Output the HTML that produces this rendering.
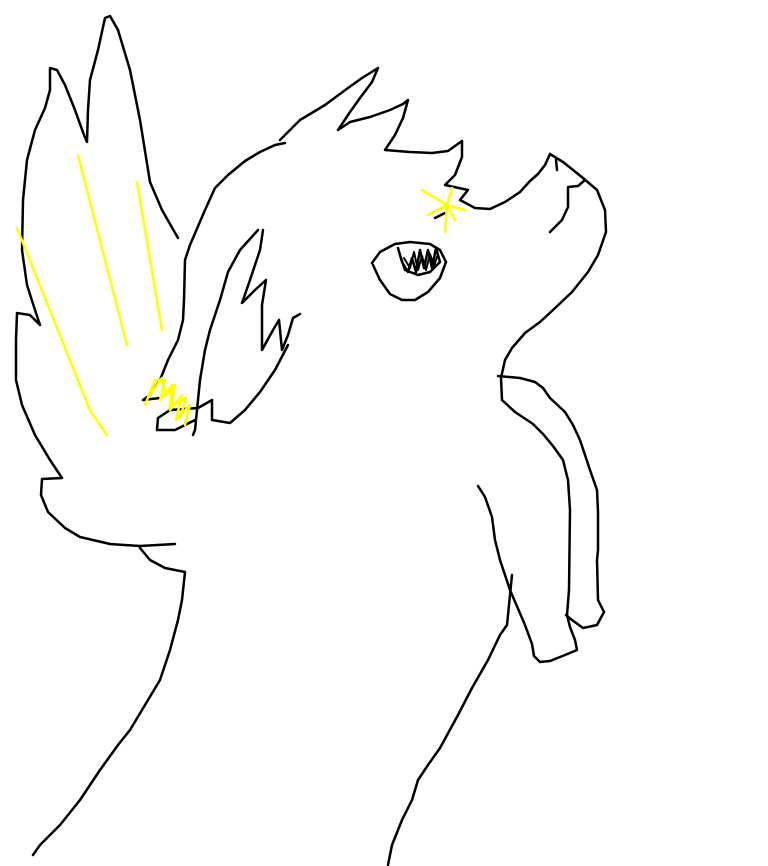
<!DOCTYPE html>
<html><head><meta charset="utf-8"><style>html,body{margin:0;padding:0;background:#fff}svg{display:block}</style></head><body>
<svg width="768" height="866" viewBox="0 0 768 866" xmlns="http://www.w3.org/2000/svg">
<g fill="none" stroke="#000" stroke-width="2.5" stroke-linecap="round" stroke-linejoin="round">
<polyline points="178,238 162,210 150,182 140,120 130,70 118,30 110,16 105,18 98,50 90,80 88,110 87,142 84,135 75,110 65,85 57,70 50,68 50,90 45,108 35,130 27,160 23,200 22,250 27,285 35,310 40,325 30,315 17,313 16,340 16,380 22,405 35,435 50,460 62,478 42,479 41,495 48,512 65,528 80,537 110,544 140,546 175,544"/>
<polyline points="140,548 150,560 165,568 185,572 182,600 178,620 170,650 160,680 145,705 130,730 118,745 100,770 80,800 60,825 40,845 33,855"/>
<polyline points="388,865 392,845 402,820 412,800 418,780 428,765 440,748 458,715 472,688 488,660 500,635 507,625 512,575"/>
<polyline points="478,486 485,497 492,517 495,540 500,560 510,590 525,625 532,644 534,656 540,662 550,661 565,655 577,650 575,640 570,627 567,615 569,590 570,510 568,480 563,460 553,446 543,434 533,424 515,412 502,400 501,378 505,360 512,348 525,333 540,322 553,310 572,292 588,272 598,255 606,232 605,210 597,190 583,178 563,162 550,154 545,165 538,174 530,181 520,192 505,202 490,209 475,208 460,200 468,190 445,185 455,175 462,157 462,142"/>
<polyline points="585,180 578,186 568,187 568,207 562,220 550,232"/>
<polyline points="498,376 520,378 535,382 543,388 550,398 565,412 573,425 580,440 590,470 597,490 598,512 598,550 597,560 598,600 604,612 597,625 583,628 572,620 566,615"/>
<polyline points="556,160 557,170 M550,158 550,170"/>
<polyline points="280,140 300,120 325,105 348,88 362,78 378,68 372,82 360,98 350,112 338,130 350,122 370,117 390,110 403,104 408,100 403,118 395,135 385,150 410,152 432,153 448,151 462,141"/>
<polyline points="285,143 275,145 260,152 245,161 228,175 215,188 205,210 190,245 185,260 184,300 183,320 178,340 168,360 160,380 150,395 143,400 160,398"/>
<polyline points="263,230 260,250 250,280 242,303 255,290 266,280 262,305 262,328 262,350 273,330 279,320 282,350 288,335 293,318 300,314"/>
<polyline points="258,230 240,250 228,272 220,300 210,330 205,350 200,380 198,400 195,430 193,435"/>
<polyline points="157,430 158,418 170,410 198,408 212,400 212,420 230,423 245,410 260,392 275,370 288,345"/>
<polyline points="157,430 175,430 195,420"/>
<polyline points="373,265 380,280 390,294 402,300 415,300 428,292 440,278 446,262 440,250 430,244 410,242 395,244 380,252 372,263"/>
<polyline stroke-width="2.5" points="398,248 402,262 408,272 412,258 416,272 420,250 424,268 428,250 432,268 436,248 440,262 430,272 418,275 405,270 400,255"/>
<polyline stroke-width="2" points="404,258 410,268 414,252 418,270 422,256 426,270 430,254 434,266 438,254"/>
<polyline points="435,218 445,213"/>
</g>
<g fill="none" stroke="#ffff00" stroke-width="2.5" stroke-linecap="round" stroke-linejoin="round">
<polyline points="78,155 127,345"/>
<polyline points="137,182 162,330"/>
<polyline points="17,228 90,410 107,435"/>
<polyline points="422,190 447,205 465,210 447,205 452,188 447,205 445,232 447,205 428,215 447,205 455,220"/>
<polyline points="145,405 155,380 165,380 160,400 172,385 170,410 182,395 176,420 190,405 185,425"/>
<polyline points="150,395 162,378 166,395 175,385 172,405 186,398 180,418"/>
</g>
</svg>
</body></html>
